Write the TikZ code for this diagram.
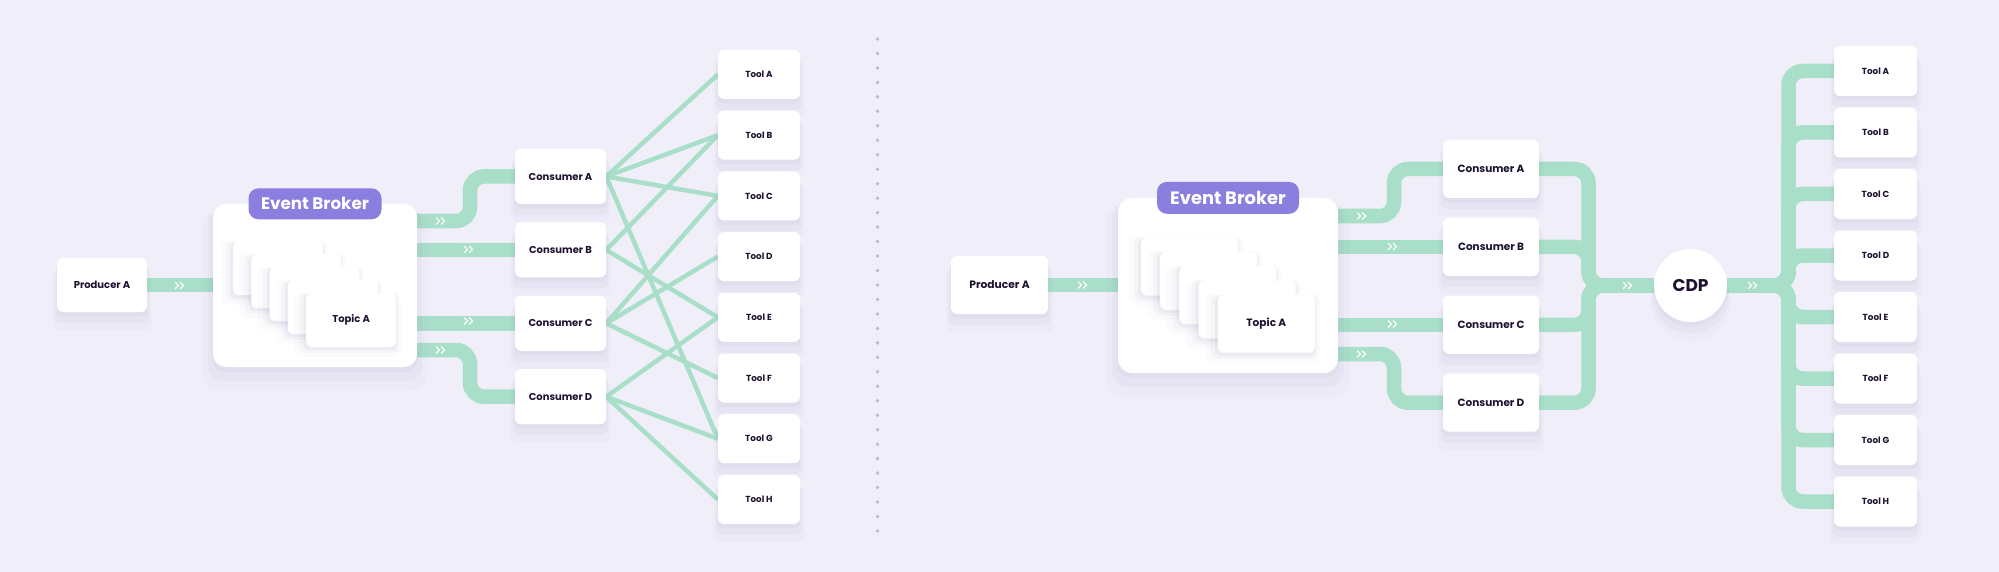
\documentclass[tikz,border=0pt]{standalone}
\usepackage{fontspec}
\setmainfont{Poppins}
\usetikzlibrary{positioning,shadows,backgrounds}
\definecolor{pagebg}{HTML}{F0EFF9}
\definecolor{pipegreen}{HTML}{A9DFC9}
\definecolor{brokerpurple}{HTML}{8A7EDF}
\definecolor{inkdark}{HTML}{1E1131}
\definecolor{dotgrey}{HTML}{BDB9D0}
\definecolor{shadowgrey}{HTML}{4B3F8A}
\pgfdeclarelayer{paper}
\pgfsetlayers{paper,background,main}

\begin{document}
\begin{tikzpicture}[
    x=1pt, y=-1pt,
    softshadow/.style={
        general shadow={shadow scale=1.01, shadow yshift=-4pt, fill=shadowgrey, opacity=.04},
        general shadow={shadow scale=1.05, shadow yshift=-9pt, fill=shadowgrey, opacity=.035},
        general shadow={shadow scale=1.10, shadow yshift=-14pt, fill=shadowgrey, opacity=.025}},
    stackshadow/.style={
        general shadow={shadow scale=1.04, shadow xshift=-1pt, shadow yshift=-2pt, fill=shadowgrey, opacity=.05},
        general shadow={shadow scale=1.10, shadow xshift=-2pt, shadow yshift=-3pt, fill=shadowgrey, opacity=.03},
        general shadow={shadow scale=1.18, shadow xshift=-3pt, shadow yshift=-4pt, fill=shadowgrey, opacity=.02}},
    card/.style={rectangle, fill=white, rounded corners=6pt, inner sep=0pt, text=inkdark, font=\bfseries\fontsize{10}{12}\selectfont, softshadow},
    cons/.style={card, minimum width=91pt, minimum height=55pt},
    cons2/.style={card, minimum width=96pt, minimum height=58pt, font=\bfseries\fontsize{10.5}{12}\selectfont},
    tool/.style={card, minimum width=82pt, minimum height=49pt, font=\bfseries\fontsize{8.8}{10}\selectfont},
    tool2/.style={card, minimum width=83pt, minimum height=50pt, font=\bfseries\fontsize{8.8}{10}\selectfont},
    topic/.style={rectangle, fill=white, rounded corners=6pt, inner sep=0pt, text=inkdark, font=\bfseries\fontsize{10}{12}\selectfont, stackshadow, minimum width=90pt, minimum height=54pt},
    topic2/.style={topic, minimum width=97pt, minimum height=58pt, font=\bfseries\fontsize{10.6}{12}\selectfont},
    broker/.style={rectangle, fill=white, rounded corners=13pt, inner sep=0pt, softshadow},
    badge/.style={rectangle, fill=brokerpurple, rounded corners=10pt, inner sep=0pt, text=white, font=\bfseries\fontsize{16.7}{20}\selectfont},
    hub/.style={circle, fill=white, minimum size=73pt, inner sep=0pt, text=inkdark, font=\bfseries\fontsize{17}{20}\selectfont, softshadow},
    pipe/.style={line width=14.5pt, draw=pipegreen, rounded corners=14pt},
    wire/.style={line width=4.5pt, draw=pipegreen},
    chev/.pic={\draw[white, opacity=.9, line width=1.1pt] (-5,-3.5) -- (-1.5,0) -- (-5,3.5) (0,-3.5) -- (3.5,0) -- (0,3.5);}
]
\begin{pgfonlayer}{paper}
\fill[pagebg] (0,0) rectangle (1999,572);
\end{pgfonlayer}
\useasboundingbox (0,0) rectangle (1999,572);

% ---- left: point to point ----
\node[card, minimum width=90pt, minimum height=54pt] (pa) at (102,285) {Producer A};
\node[broker, minimum width=204pt, minimum height=163pt] (brk) at (315,285.5) {};
\node[badge, minimum width=133pt, minimum height=31pt] (lbl) at (brk.north) {Event Broker};
\node[topic] (t1) at (278,268) {};
\node[topic] (t2) at (296.3,281) {};
\node[topic] (t3) at (314.6,294) {};
\node[topic] (t4) at (332.9,307) {};
\node[topic] (t5) at (351.2,320) {Topic A};

\node[cons] (ca) at (560.5,176.5) {Consumer A};
\node[cons, below=18pt of ca] (cb) {Consumer B};
\node[cons, below=18pt of cb] (cc) {Consumer C};
\node[cons, below=18pt of cc] (cd) {Consumer D};

\node[tool] (ta) at (759,74.5) {Tool A};
\node[tool, below=11.3pt of ta] (tb) {Tool B};
\node[tool, below=11.3pt of tb] (tc) {Tool C};
\node[tool, below=11.3pt of tc] (td) {Tool D};
\node[tool, below=11.3pt of td] (te) {Tool E};
\node[tool, below=11.3pt of te] (tf) {Tool F};
\node[tool, below=11.3pt of tf] (tg) {Tool G};
\node[tool, below=11.3pt of tg] (th) {Tool H};

\begin{scope}[on background layer]
\draw[pipe] (pa.east) -- (pa.east -| brk.west);
\draw[pipe] (brk.east |- 0,221) -- (470,221) |- (ca.west);
\draw[pipe] (brk.east |- cb.west) -- (cb.west);
\draw[pipe] (brk.east |- cc.west) -- (cc.west);
\draw[pipe] (brk.east |- 0,350) -- (470,350) |- (cd.west);
% every consumer wired to its own tools
\draw[wire] (ca.east) -- (ta.west);
\draw[wire] (ca.east) -- (tb.west);
\draw[wire] (ca.east) -- (tc.west);
\draw[wire] (ca.east) -- (tg.west);
\draw[wire] (cb.east) -- (tb.west);
\draw[wire] (cb.east) -- (te.west);
\draw[wire] (cc.east) -- (tc.west);
\draw[wire] (cc.east) -- (td.west);
\draw[wire] (cc.east) -- (tf.west);
\draw[wire] (cd.east) -- (te.west);
\draw[wire] (cd.east) -- (tg.west);
\draw[wire] (cd.east) -- (th.west);
\end{scope}
\pic at (180,285.5) {chev};
\pic at (441,221) {chev};
\pic at (469,249.5) {chev};
\pic at (469,321) {chev};
\pic at (441,350) {chev};

% ---- divider ----
\draw[dotgrey, line width=3.8pt, line cap=round, dash pattern=on 0pt off 14.47pt] (877.5,39) -- (877.5,532);

% ---- right: through the CDP ----
\node[card, minimum width=97pt, minimum height=58pt, font=\bfseries\fontsize{10.7}{12}\selectfont] (pa2) at (999.5,285) {Producer A};
\node[broker, minimum width=220pt, minimum height=175pt, rounded corners=14pt] (brk2) at (1228,285.5) {};
\node[badge, minimum width=142pt, minimum height=32pt, font=\bfseries\fontsize{17.9}{20}\selectfont] (lbl2) at (brk2.north) {Event Broker};
\node[topic2] (u1) at (1189.5,266.5) {};
\node[topic2] (u2) at (1208.7,280.8) {};
\node[topic2] (u3) at (1227.9,295.1) {};
\node[topic2] (u4) at (1247.1,309.4) {};
\node[topic2] (u5) at (1266.3,323.7) {Topic A};

\node[cons2] (ca2) at (1491,169) {Consumer A};
\node[cons2, below=19.5pt of ca2] (cb2) {Consumer B};
\node[cons2, below=19.5pt of cb2] (cc2) {Consumer C};
\node[cons2, below=19.5pt of cc2] (cd2) {Consumer D};

\node[hub] (cdp) at (1690.5,285.5) {CDP};

\node[tool2] (ua) at (1875.5,71) {Tool A};
\node[tool2, below=11.1pt of ua] (ub) {Tool B};
\node[tool2, below=11.1pt of ub] (uc) {Tool C};
\node[tool2, below=11.1pt of uc] (ud) {Tool D};
\node[tool2, below=11.1pt of ud] (ue) {Tool E};
\node[tool2, below=11.1pt of ue] (uf) {Tool F};
\node[tool2, below=11.1pt of uf] (ug) {Tool G};
\node[tool2, below=11.1pt of ug] (uh) {Tool H};

\coordinate (join) at (1588.5,285.5);
\coordinate (bus) at (1788.5,285.5);

\begin{scope}[on background layer]
\draw[pipe] (pa2.east) -- (pa2.east -| brk2.west);
\draw[pipe] (brk2.east |- 0,216) -- (1394,216) |- (ca2.west);
\draw[pipe] (brk2.east |- cb2.west) -- (cb2.west);
\draw[pipe] (brk2.east |- cc2.west) -- (cc2.west);
\draw[pipe] (brk2.east |- 0,354) -- (1394,354) |- (cd2.west);
% consumers merge into the CDP
\draw[pipe] (ca2.east) -| (join) -- (cdp.west);
\draw[pipe] (cb2.east) -| (join) -- (cdp.west);
\draw[pipe] (cc2.east) -| (join) -- (cdp.west);
\draw[pipe] (cd2.east) -| (join) -- (cdp.west);
% CDP fans out to the tools
\draw[pipe] (cdp.east) -- (bus) |- (ua.west);
\draw[pipe] (cdp.east) -- (bus) |- (ub.west);
\draw[pipe] (cdp.east) -- (bus) |- (uc.west);
\draw[pipe] (cdp.east) -- (bus) |- (ud.west);
\draw[pipe] (cdp.east) -- (bus) |- (ue.west);
\draw[pipe] (cdp.east) -- (bus) |- (uf.west);
\draw[pipe] (cdp.east) -- (bus) |- (ug.west);
\draw[pipe] (cdp.east) -- (bus) |- (uh.west);
\end{scope}
\pic at (1083,285) {chev};
\pic at (1362,216) {chev};
\pic at (1393,246.5) {chev};
\pic at (1393,324) {chev};
\pic at (1362,354) {chev};
\pic at (1628,285.5) {chev};
\pic at (1753,285.5) {chev};
\end{tikzpicture}
\end{document}
